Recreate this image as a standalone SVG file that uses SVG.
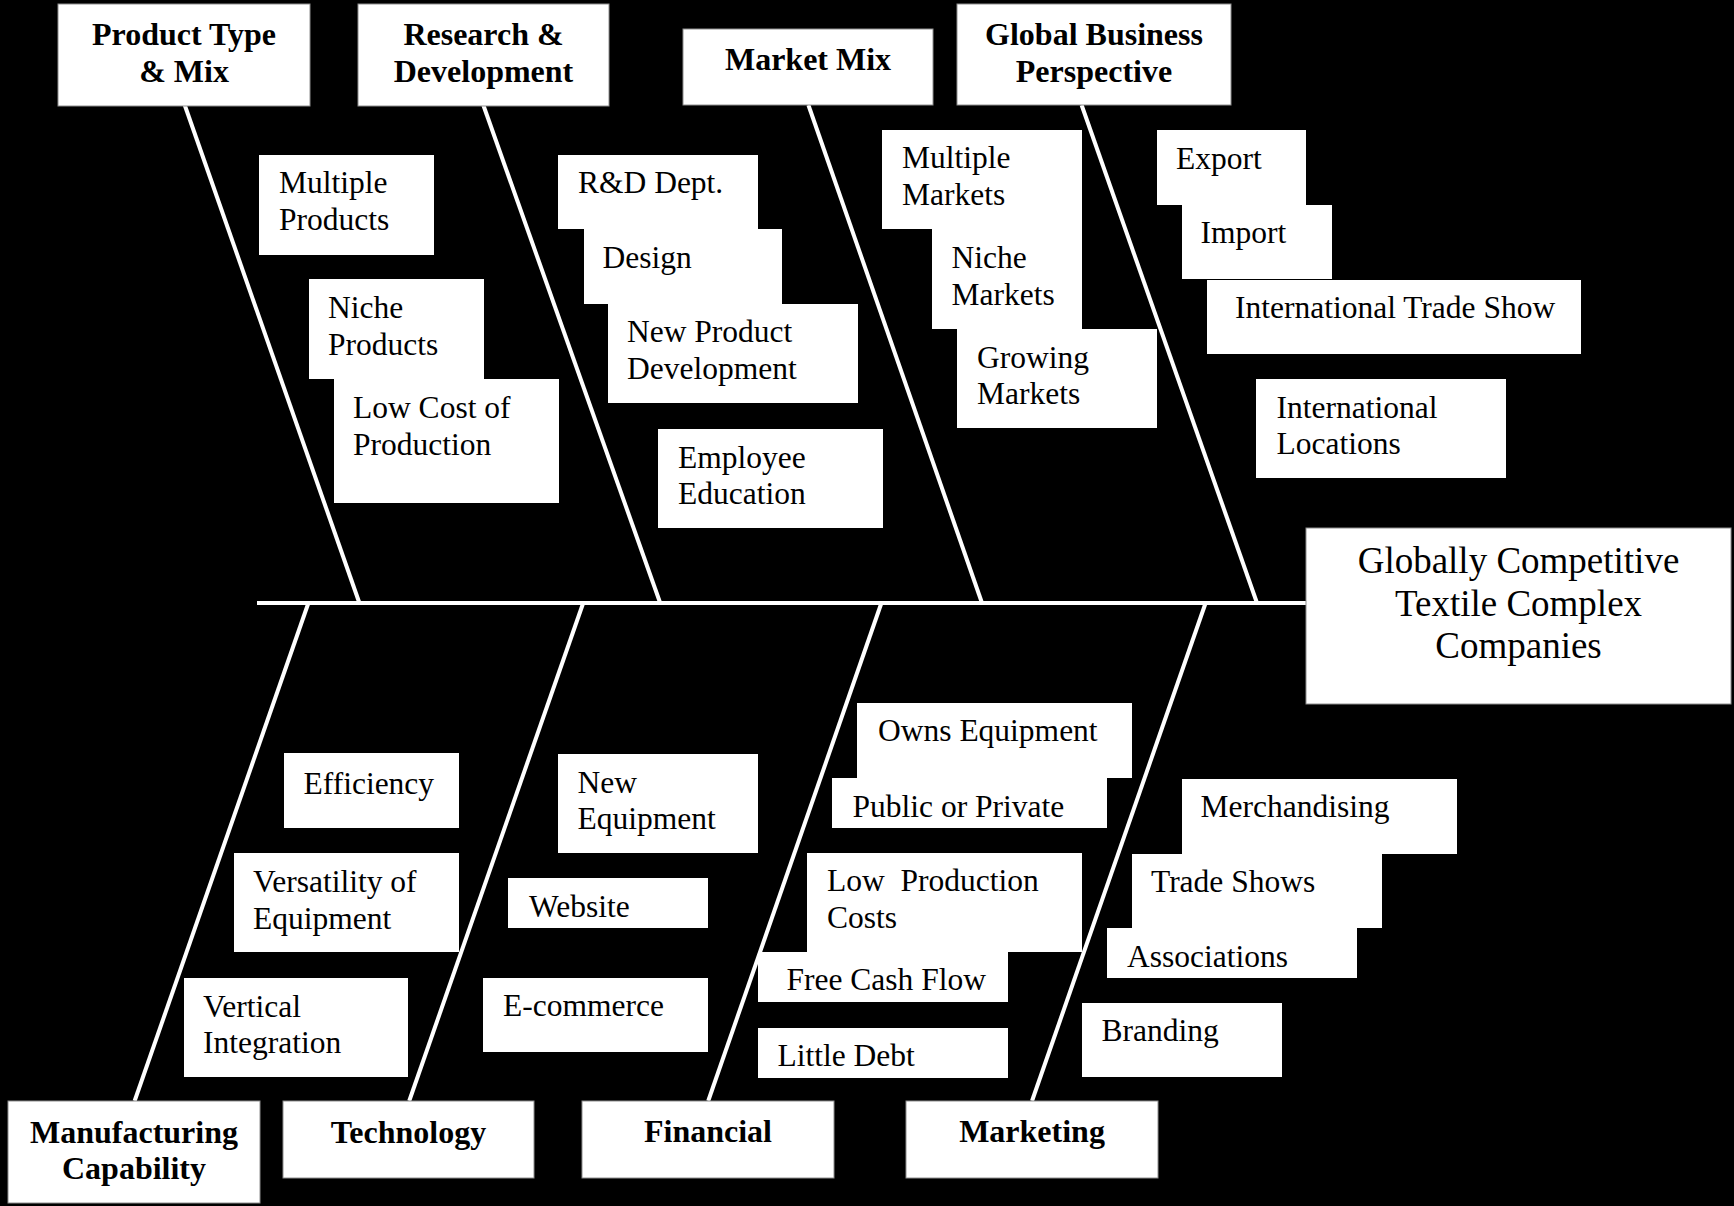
<svg xmlns="http://www.w3.org/2000/svg" width="1734" height="1206" viewBox="0 0 1734 1206">
<style>
.box{fill:#ffffff}
.cat{fill:#ffffff;stroke:#8e8e8e;stroke-width:1}
.t{font-family:"Liberation Serif","Times New Roman",serif;font-size:31.5px;fill:#000000}
.b{font-family:"Liberation Serif","Times New Roman",serif;font-size:32px;font-weight:bold;fill:#000000;text-anchor:middle}
.e{font-family:"Liberation Serif","Times New Roman",serif;font-size:37px;fill:#000000;text-anchor:middle}
.bone{stroke:#ffffff;stroke-width:4;fill:none}
</style>
<rect x="0" y="0" width="1734" height="1206" fill="#000000"/>
<g id="connectors">
<line class="bone" x1="257" y1="603" x2="1306" y2="603"/>
<line class="bone" x1="184.7" y1="105" x2="359.4" y2="603"/>
<line class="bone" x1="483.3" y1="105" x2="660.2" y2="603"/>
<line class="bone" x1="808.4" y1="105" x2="982" y2="603"/>
<line class="bone" x1="1081.6" y1="105" x2="1257" y2="603"/>
<line class="bone" x1="308.4" y1="603" x2="134.6" y2="1101"/>
<line class="bone" x1="583.2" y1="603" x2="409.2" y2="1101"/>
<line class="bone" x1="881.4" y1="603" x2="708.2" y2="1101"/>
<line class="bone" x1="1205.6" y1="603" x2="1032" y2="1101"/>
</g>
<g id="cat-product"><rect class="cat" x="58" y="4" width="252" height="102"/><text class="b" x="184" y="45">Product Type</text><text class="b" x="184" y="81.7">&amp; Mix</text></g>
<g id="cat-rd"><rect class="cat" x="358" y="4" width="251" height="102"/><text class="b" x="483.5" y="45">Research &amp;</text><text class="b" x="483.5" y="81.7">Development</text></g>
<g id="cat-market"><rect class="cat" x="683" y="29" width="250" height="76"/><text class="b" x="808" y="69.6">Market Mix</text></g>
<g id="cat-global"><rect class="cat" x="957" y="4" width="274" height="101"/><text class="b" x="1094" y="44.6">Global Business</text><text class="b" x="1094" y="82">Perspective</text></g>
<g id="cat-manufacturing"><rect class="cat" x="8" y="1101" width="252" height="102"/><text class="b" x="134" y="1143">Manufacturing</text><text class="b" x="134" y="1179">Capability</text></g>
<g id="cat-technology"><rect class="cat" x="283" y="1101" width="251" height="77"/><text class="b" x="408.5" y="1143">Technology</text></g>
<g id="cat-financial"><rect class="cat" x="582" y="1101" width="252" height="77"/><text class="b" x="708" y="1142.3">Financial</text></g>
<g id="cat-marketing"><rect class="cat" x="906" y="1101" width="252" height="77"/><text class="b" x="1032" y="1142.3">Marketing</text></g>
<g id="effect"><rect class="cat" x="1306" y="528" width="425" height="176" stroke-width="1.5"/><text class="e" x="1518.5" y="572.5">Globally Competitive</text><text class="e" x="1518.5" y="615.5">Textile Complex</text><text class="e" x="1518.5" y="658">Companies</text></g>
<g id="multiple-products"><rect class="box" x="259" y="155" width="175" height="100"/><text class="t" x="279" y="193">Multiple</text><text class="t" x="279" y="230">Products</text></g>
<g id="niche-products"><rect class="box" x="309" y="279" width="175" height="100"/><text class="t" x="328" y="318">Niche</text><text class="t" x="328" y="354.5">Products</text></g>
<g id="low-cost"><rect class="box" x="334" y="379" width="225" height="124"/><text class="t" x="353" y="418">Low Cost of</text><text class="t" x="353" y="454.5">Production</text></g>
<g id="rd-dept"><rect class="box" x="558" y="155" width="200" height="74"/><text class="t" x="578" y="193">R&amp;D Dept.</text></g>
<g id="design"><rect class="box" x="584" y="229" width="198" height="75"/><text class="t" x="602.5" y="268">Design</text></g>
<g id="new-product-dev"><rect class="box" x="608" y="304" width="250" height="99"/><text class="t" x="627" y="342">New Product</text><text class="t" x="627" y="379">Development</text></g>
<g id="employee-education"><rect class="box" x="658" y="429" width="225" height="99"/><text class="t" x="678" y="467.5">Employee</text><text class="t" x="678" y="503.5">Education</text></g>
<g id="multiple-markets"><rect class="box" x="882" y="130" width="200" height="99"/><text class="t" x="902" y="168">Multiple</text><text class="t" x="902" y="205">Markets</text></g>
<g id="niche-markets"><rect class="box" x="932" y="229" width="150" height="100"/><text class="t" x="951.5" y="268">Niche</text><text class="t" x="951.5" y="304.5">Markets</text></g>
<g id="growing-markets"><rect class="box" x="957" y="329" width="200" height="99"/><text class="t" x="977" y="367.5">Growing</text><text class="t" x="977" y="403.5">Markets</text></g>
<g id="export"><rect class="box" x="1157" y="130" width="149" height="75"/><text class="t" x="1176" y="169">Export</text></g>
<g id="import"><rect class="box" x="1182" y="205" width="150" height="74"/><text class="t" x="1200.5" y="242.5">Import</text></g>
<g id="intl-trade-show"><rect class="box" x="1207" y="280" width="374" height="74"/><text class="t" x="1235" y="317.5">International Trade Show</text></g>
<g id="intl-locations"><rect class="box" x="1256" y="379" width="250" height="99"/><text class="t" x="1276.5" y="418">International</text><text class="t" x="1276.5" y="453.5">Locations</text></g>
<g id="efficiency"><rect class="box" x="284" y="753" width="175" height="75"/><text class="t" x="303.5" y="793.5">Efficiency</text></g>
<g id="versatility"><rect class="box" x="234" y="853" width="225" height="99"/><text class="t" x="253" y="891.5">Versatility of</text><text class="t" x="253" y="929">Equipment</text></g>
<g id="vertical-integration"><rect class="box" x="184" y="978" width="224" height="99"/><text class="t" x="203" y="1017">Vertical</text><text class="t" x="203" y="1053">Integration</text></g>
<g id="new-equipment"><rect class="box" x="558" y="754" width="200" height="99"/><text class="t" x="577.5" y="792.5">New</text><text class="t" x="577.5" y="828.5">Equipment</text></g>
<g id="website"><rect class="box" x="508" y="878" width="200" height="50"/><text class="t" x="529" y="916.5">Website</text></g>
<g id="e-commerce"><rect class="box" x="483" y="978" width="225" height="74"/><text class="t" x="503" y="1015.5">E-commerce</text></g>
<g id="owns-equipment"><rect class="box" x="857" y="703" width="275" height="75"/><text class="t" x="878" y="741">Owns Equipment</text></g>
<g id="public-private"><rect class="box" x="832" y="778" width="275" height="50"/><text class="t" x="852.5" y="817">Public or Private</text></g>
<g id="low-production-costs"><rect class="box" x="807" y="853" width="275" height="99"/><text class="t" x="827" y="891" xml:space="preserve">Low  Production</text><text class="t" x="827" y="928">Costs</text></g>
<g id="free-cash-flow"><rect class="box" x="758" y="952" width="250" height="50"/><text class="t" x="786.5" y="990">Free Cash Flow</text></g>
<g id="little-debt"><rect class="box" x="758" y="1028" width="250" height="50"/><text class="t" x="777.5" y="1066">Little Debt</text></g>
<g id="merchandising"><rect class="box" x="1182" y="779" width="275" height="75"/><text class="t" x="1200.5" y="816.7">Merchandising</text></g>
<g id="trade-shows"><rect class="box" x="1132" y="854" width="250" height="74"/><text class="t" x="1151" y="891.7">Trade Shows</text></g>
<g id="associations"><rect class="box" x="1107" y="928" width="250" height="50"/><text class="t" x="1127" y="966.7">Associations</text></g>
<g id="branding"><rect class="box" x="1082" y="1003" width="200" height="74"/><text class="t" x="1101.5" y="1041">Branding</text></g>
</svg>
